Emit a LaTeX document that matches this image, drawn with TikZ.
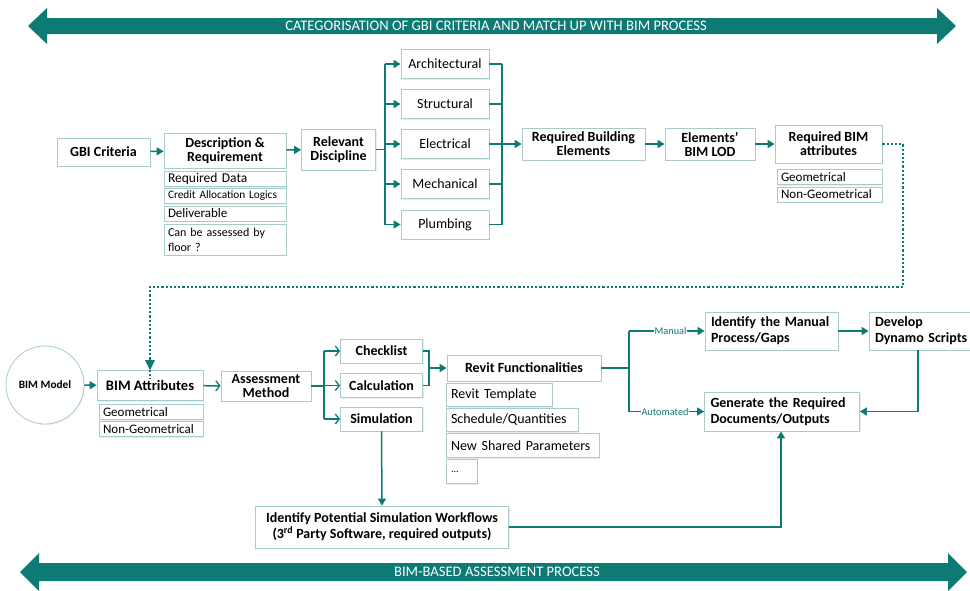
\documentclass[tikz,border=0pt]{standalone}
\usepackage{fontspec}
\setmainfont{Carlito}
\usetikzlibrary{arrows.meta,shadows}
\definecolor{teal1}{RGB}{14,122,116}
\definecolor{boxline}{RGB}{168,204,204}
\begin{document}
\begin{tikzpicture}[x=1pt,y=-1pt,
  box/.style={draw=boxline, line width=0.8pt, fill=white, inner sep=1.5pt, align=center,
    drop shadow={opacity=0.15, shadow xshift=1.2pt, shadow yshift=-1.2pt}},
  mainbox/.style={box, font=\fontsize{14}{15}\selectfont\bfseries},
  discbox/.style={box, font=\fontsize{14}{15}\selectfont},
  subbox/.style={box, font=\fontsize{11.3}{13}\selectfont, align=left, inner xsep=4pt, inner ysep=0.3pt, text width=#1},
  revbox/.style={box, font=\fontsize{14}{15}\selectfont, align=left, inner xsep=5pt, text width=#1},
  leftbox/.style={box, font=\fontsize{14}{16}\selectfont\bfseries, align=left, inner xsep=6pt, text width=#1},
  conn/.style={draw=teal1, line width=1.5pt},
  carr/.style={conn, -{Triangle[length=7pt,width=8pt]}},
  oarr/.style={conn, -{Straight Barb[length=4pt,width=10pt,line width=1.3pt]}},
  dots/.style={draw=teal1, line width=1.8pt, dash pattern=on 2.2pt off 2pt},
  bandtext/.style={text=white, font=\fontsize{14.6}{16}\selectfont},
  lab/.style={text=teal1, fill=white, inner sep=0.5pt, font=\fontsize{10.3}{11}\selectfont},
  geo/.style={font=\fontsize{13}{13}\selectfont}
]
\useasboundingbox (0,0) rectangle (970,590);
\fill[white] (0,0) rectangle (970,590);

% top band
\fill[teal1] (28,26) -- (47,8) -- (47,18) -- (937,18) -- (937,8) -- (956,26) -- (937,44) -- (937,34) -- (47,34) -- (47,44) -- cycle;
\node[bandtext] (topband) at (496,26) {CATEGORISATION OF GBI CRITERIA AND MATCH UP WITH BIM PROCESS};

% bottom band
\fill[teal1] (20,572) -- (39,553) -- (39,563) -- (948,563) -- (948,553) -- (967,572) -- (948,591) -- (948,581) -- (39,581) -- (39,591) -- cycle;
\node[bandtext] (botband) at (497,572) {BIM-BASED ASSESSMENT PROCESS};

% ---------- top row ----------
\node[mainbox, minimum width=93pt, minimum height=28pt] (gbi) at (103.5,152) {GBI Criteria};
\node[mainbox, minimum width=122pt, minimum height=35pt] (desc) at (225,150.5) {Description \&\\[-1pt] Requirement};
\node[mainbox, minimum width=74pt, minimum height=41pt] (rel) at (338.5,149.5) {Relevant\\[-1pt] Discipline};

\node[subbox=114pt, minimum height=15pt, font=\fontsize{13.5}{14}\selectfont] (rd) at (225,179) {Required Data};
\node[subbox=114pt, minimum height=15pt] (cal) at (225,196) {Credit Allocation Logics};
\node[subbox=114pt, minimum height=15pt, font=\fontsize{13}{14}\selectfont] (del) at (225,213.5) {Deliverable};
\node[subbox=114pt, minimum height=31pt, font=\fontsize{12}{15}\selectfont] (flo) at (225,239.5) {Can be assessed by\\ floor ?};

\node[discbox, minimum width=88pt, minimum height=29pt] (arc) at (445,64) {Architectural};
\node[discbox, minimum width=88pt, minimum height=29pt] (str) at (445,104) {Structural};
\node[discbox, minimum width=88pt, minimum height=29pt] (ele) at (445,144) {Electrical};
\node[discbox, minimum width=88pt, minimum height=29pt] (mec) at (445,184) {Mechanical};
\node[discbox, minimum width=88pt, minimum height=29pt] (plu) at (445,224.5) {Plumbing};

\node[mainbox, minimum width=123pt, minimum height=32pt] (rbe) at (583.5,144) {Required Building\\[-1pt] Elements};
\node[mainbox, minimum width=90pt, minimum height=32pt] (lod) at (710,144) {Elements’\\[-1pt] BIM LOD};
\node[mainbox, minimum width=107pt, minimum height=38pt] (rba) at (828.5,144) {Required BIM\\[-1pt] attributes};
\node[subbox=97pt, geo, minimum height=15pt] (geo1) at (829.5,177) {Geometrical};
\node[subbox=97pt, geo, minimum height=15pt] (ngeo1) at (829.5,194.5) {Non-Geometrical};

% ---------- bottom row ----------
\node[draw=boxline, line width=0.8pt, fill=white, circle, minimum size=78pt, inner sep=0pt, font=\fontsize{11.3}{12}\selectfont\bfseries,
  drop shadow={opacity=0.12, shadow xshift=1pt, shadow yshift=-1pt}] (bim) at (45,385) {BIM Model};
\node[mainbox, minimum width=106pt, minimum height=30pt, font=\fontsize{14.5}{16}\selectfont\bfseries] (batt) at (150,385.5) {BIM Attributes};
\node[subbox=96pt, geo, minimum height=15pt] (geo2) at (151,412) {Geometrical};
\node[subbox=96pt, geo, minimum height=15pt] (ngeo2) at (151,429) {Non-Geometrical};

\node[mainbox, minimum width=90pt, minimum height=30pt] (am) at (266,386) {Assessment\\[-1pt] Method};
\node[mainbox, minimum width=82pt, minimum height=24pt] (chk) at (381.5,351) {Checklist};
\node[mainbox, minimum width=82pt, minimum height=24pt] (calc) at (381.5,385.5) {Calculation};
\node[mainbox, minimum width=82pt, minimum height=24pt] (sim) at (381.5,419) {Simulation};

\node[mainbox, minimum width=154pt, minimum height=26pt] (rf) at (524,368) {Revit Functionalities};
\node[revbox=96pt, minimum height=23pt] (rt) at (499,395) {Revit Template};
\node[revbox=122pt, minimum height=23pt] (sq) at (512,420) {Schedule/Quantities};
\node[revbox=143pt, minimum height=24pt] (nsp) at (522.5,445.5) {New Shared Parameters};
\node[revbox=21pt, minimum height=24pt, font=\fontsize{10}{12}\selectfont] (etc) at (461.5,471.5) {...};

\node[leftbox=121pt, minimum height=38pt] (imp) at (771.5,331) {Identify the Manual\\ Process/Gaps};
\node[leftbox=98pt, minimum height=38pt] (dds) at (924,331) {Develop\\ Dynamo Scripts};
\node[leftbox=143pt, minimum height=39pt] (gen) at (782,411.5) {Generate the Required\\ Documents/Outputs};

\node[mainbox, minimum width=253pt, minimum height=42pt, font=\fontsize{14}{16}\selectfont\bfseries] (ips) at (382,527)
  {Identify Potential Simulation Workflows\\ (3\textsuperscript{rd} Party Software, required outputs)};

% ---------- connectors top ----------
\draw[carr] (gbi) -- (desc);
\draw[carr] (desc) -- (rel);
\coordinate (jl) at (385,149.5);
\draw[conn] (rel.east) -- (jl);
\draw[conn] (385,64) -- (385,224.5);
\foreach \n in {arc,str,ele,mec,plu}{
  \draw[carr] (385,0 |- \n.west) -- (\n.west);
  \draw[conn] (\n.east) -- (502,0 |- \n.east);
}
\draw[conn] (502,64) -- (502,224.5);
\coordinate (jr) at (502,144);
\draw[carr] (jr) -- (rbe.west);
\draw[carr] (rbe) -- (lod);
\draw[carr] (lod) -- (rba);

% dotted link
\draw[dots] (rba.east) -- (903,144) -- (903,287) -- (150,287) -- ([yshift=-9pt]batt.north);
\fill[teal1] (batt.north) -- ++(-5,-10) -- ++(10,0) -- cycle;

% ---------- connectors bottom ----------
\draw[carr] (bim) -- (batt);
\draw[oarr] (batt) -- (am);
\coordinate (ja) at (324,386);
\draw[conn] (am.east) -- (ja);
\draw[conn] (324,351) -- (324,419);
\draw[oarr] (324,351) -- (chk.west);
\draw[oarr] (324,385.5) -- (calc.west);
\draw[oarr] (324,419) -- (sim.west);
\draw[conn] (chk.east) -- (429,351) -- (429,385.5) -- (calc.east);
\coordinate (jc) at (429,368);
\draw[carr] (jc) -- (rf.west);

\coordinate (jm) at (629,368);
\draw[conn] (rf.east) -- (jm);
\draw[conn] (629,331) -- (629,411.5);
\draw[carr] (629,331) -- node[lab, pos=0.55] {Manual} (imp.west);
\draw[carr] (629,411.5) -- node[lab, pos=0.48] {Automated} (gen.west);
\draw[carr] (imp) -- (dds);
\draw[carr] (918,0 |- dds.south) -- (918,411.5) -- (gen.east);
\draw[carr] (sim.south) -- (ips.north);
\draw[carr] (ips.east) -- (781,527) -- (781,0 |- gen.south);
\end{tikzpicture}
\end{document}
